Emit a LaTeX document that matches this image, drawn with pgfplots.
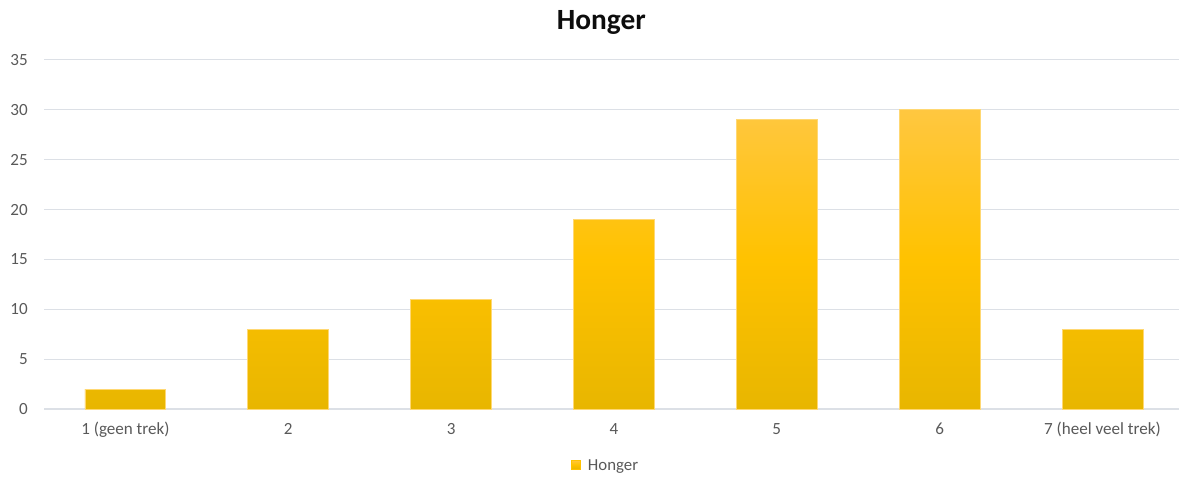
\documentclass[border=0pt]{standalone}
\usepackage{pgfplots}
\pgfplotsset{compat=1.18}
\usepackage{fontspec}
\setmainfont{Carlito}

\definecolor{gridgray}{RGB}{220,224,230}
\definecolor{labelgray}{RGB}{89,89,89}
\definecolor{bartop}{RGB}{255,199,64}
\definecolor{barmid}{RGB}{255,194,0}
\definecolor{barbot}{RGB}{232,182,0}
\definecolor{baredge}{RGB}{255,216,115}

\begin{document}
\begin{tikzpicture}
\useasboundingbox (0,0) rectangle (884.25pt,358.5pt);
\node[anchor=base, font=\bfseries\fontsize{22}{26}\selectfont, text=black!95]
  at (451pt,336.4pt) {Honger};
\begin{axis}[
  at={(33pt,51.75pt)}, anchor=south west,
  scale only axis,
  width=851.25pt, height=261.75pt,
  xmin=-0.5, xmax=6.47,
  ymin=0, ymax=35,
  ytick={0,5,...,35},
  xtick={0,...,6},
  xticklabels={1 (geen trek),2,3,4,5,6,7 (heel veel trek)},
  axis line style={draw=none},
  axis x line*=bottom,
  axis y line*=left,
  major tick length=0pt,
  ymajorgrids,
  grid style={gridgray, line width=0.75pt},
  extra y ticks={0},
  extra y tick labels={},
  extra y tick style={grid style={gridgray, line width=0.9pt}},
  /pgf/number format/assume math mode=true,
  tick label style={font=\fontsize{12.8}{15}\selectfont, text=labelgray, inner sep=0pt},
  yticklabel style={anchor=east, xshift=-12pt},
  xticklabel style={anchor=base, yshift=-19.1pt},
  clip=false,
  legend style={
    at={(0.495,0)}, anchor=center, yshift=-42.5pt,
    draw=none, fill=none,
    font=\fontsize{12.6}{15}\selectfont, text=labelgray,
    inner sep=0pt,
    /tikz/every odd column/.append style={column sep=3.5pt},
  },
  legend image code/.code={%
    \fill[barmid] (0pt,-2.6pt) rectangle (6.75pt,4.15pt);
  },
]
\addplot[
  ybar, bar width=0.497,
  draw=baredge, line width=0.6pt,
  top color=bartop, bottom color=barbot, middle color=barmid,
] coordinates {
  (0,2) (1,8) (2,11) (3,19) (4,29) (5,30) (6,8)
};
\addlegendentry{Honger}
\end{axis}
\end{tikzpicture}
\end{document}
